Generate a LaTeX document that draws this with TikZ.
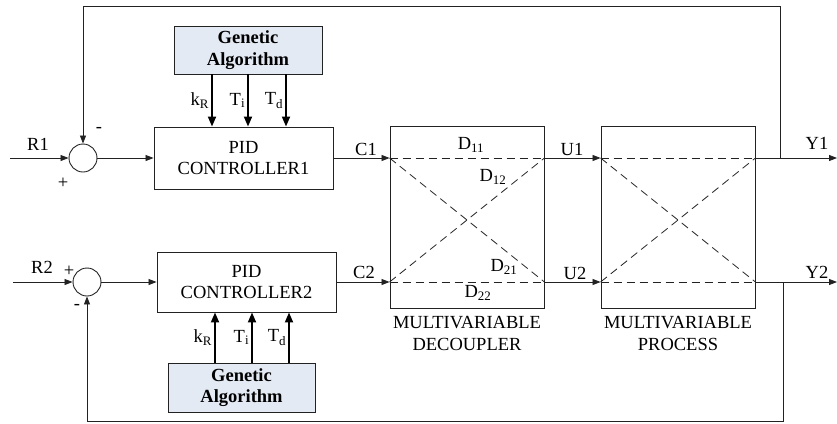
\documentclass[tikz,border=0pt]{standalone}
\usepackage{fontspec}
\setmainfont{Liberation Serif}
\usepackage{tikz}
\usetikzlibrary{arrows.meta,positioning,calc}
\definecolor{gablue}{HTML}{E4EAF4}
\definecolor{linegray}{HTML}{222222}
\newcommand{\diafont}{\fontsize{18.5}{21.5}\selectfont}
\tikzset{
  box/.style={draw=linegray,line width=0.9pt,align=center,inner sep=0pt},
  gabox/.style={box,fill=gablue,font=\diafont\bfseries},
  sumnode/.style={draw=linegray,line width=0.9pt,circle,minimum size=28pt,inner sep=0pt},
  sig/.style={draw=linegray,line width=0.8pt,-{Triangle[length=8pt,width=6pt]}},
  param/.style={draw=black,line width=1.8pt,-{Triangle[length=10pt,width=8pt]}},
  cross/.style={draw=linegray,line width=0.8pt,dash pattern=on 8pt off 5pt},
  lab/.style={inner sep=0pt}
}

\begin{document}
\begin{tikzpicture}[x=1pt,y=-1pt,font=\diafont]
  \useasboundingbox (0,0) rectangle (837,423);

  % Summing junctions
  \node[sumnode] (s1) at (83,158) {};
  \node[sumnode] (s2) at (87,282) {};

  % Controllers and optimisers
  \node[box,minimum width=179pt,minimum height=62pt] (pid1) at (243.5,158) {PID\\CONTROLLER1};
  \node[box,minimum width=179pt,minimum height=60pt] (pid2) at (246.5,282) {PID\\CONTROLLER2};
  \node[gabox,minimum width=148pt,minimum height=48pt] (ga1) at (248,50) {Genetic\\Algorithm};
  \node[gabox,minimum width=147pt,minimum height=49pt] (ga2) at (241.5,387.5) {Genetic\\Algorithm};

  % Decoupler and process
  \node[box,minimum width=154pt,minimum height=182pt] (dec) at (467,217) {};
  \node[box,minimum width=154pt,minimum height=182pt] (proc) at (678,217) {};
  \node[lab,align=center,anchor=north] (declab) at ([yshift=-8pt]dec.south) {MULTIVARIABLE\\DECOUPLER};
  \node[lab,align=center,anchor=north] (proclab) at ([yshift=-8pt]proc.south) {MULTIVARIABLE\\PROCESS};

  % Ports on the blocks
  \coordinate (d1l) at (dec.west |- pid1);
  \coordinate (d1r) at (dec.east |- pid1);
  \coordinate (d2l) at (dec.west |- pid2);
  \coordinate (d2r) at (dec.east |- pid2);
  \coordinate (p1l) at (proc.west |- pid1);
  \coordinate (p1r) at (proc.east |- pid1);
  \coordinate (p2l) at (proc.west |- pid2);
  \coordinate (p2r) at (proc.east |- pid2);

  % Dashed paths inside the blocks
  \foreach \l/\r in {d1l/d1r,d2l/d2r,d1l/d2r,d2l/d1r,p1l/p1r,p2l/p2r,p1l/p2r,p2l/p1r}
    \draw[cross] (\l) -- (\r);
  \node[lab] (d11) at (471,145) {D\textsubscript{11}};
  \node[lab] (d12) at (493,177) {D\textsubscript{12}};
  \node[lab] (d21) at (504,267) {D\textsubscript{21}};
  \node[lab] (d22) at (478,293) {D\textsubscript{22}};

  % Inputs
  \coordinate (in1) at (10,158);
  \coordinate (in2) at (13,282);
  \draw[sig] (in1) -- (s1.west);
  \draw[sig] (in2) -- (s2.west);
  \node[lab] (r1) at (38,144) {R1};
  \node[lab] (r2) at (42,267) {R2};
  \node[lab] (m1) at (99,130) {-};
  \node[lab] (p1) at (63,183) {+};
  \node[lab] (p2) at (69,271) {+};
  \node[lab] (m2) at (77,307) {-};

  % Forward signals
  \draw[sig] (s1.east) -- (s1.east -| pid1.west);
  \draw[sig] (s2.east) -- (s2.east -| pid2.west);
  \draw[sig] (pid1.east) -- (d1l);
  \draw[sig] (pid2.east) -- (d2l);
  \draw[sig] (d1r) -- (p1l);
  \draw[sig] (d2r) -- (p2l);
  \node[lab] (c1) at (366,149) {C1};
  \node[lab] (c2) at (364,272) {C2};
  \node[lab] (u1) at (572,149) {U1};
  \node[lab] (u2) at (575,273) {U2};

  % Outputs
  \coordinate (y1) at (837,158);
  \coordinate (y2) at (837,282);
  \draw[sig] (p1r) -- (y1);
  \draw[sig] (p2r) -- (y2);
  \node[lab] (y1lab) at (817,143) {Y1};
  \node[lab] (y2lab) at (817,272) {Y2};

  % Feedback loops
  \coordinate (b1) at (780,158);
  \coordinate (b2) at (783,282);
  \coordinate (fbtop) at (780,6);
  \coordinate (fbbot) at (783,421);
  \draw[sig] (b1) -- (fbtop) -| (s1.north);
  \draw[sig] (b2) -- (fbbot) -| (s2.south);

  % Tuned parameters
  \foreach \dx/\txt [count=\i] in {-36/k\textsubscript{R},0/T\textsubscript{i},38/T\textsubscript{d}}{
    \coordinate (gt\i) at ($(ga1.south)+(\dx,0)$);
    \draw[param] (gt\i) -- (gt\i |- pid1.north) node[pos=0.5,left=2pt,lab] {\txt};
  }
  \foreach \dx/\txt [count=\i] in {-26.5/k\textsubscript{R},10.5/T\textsubscript{i},47.5/T\textsubscript{d}}{
    \coordinate (gb\i) at ($(ga2.north)+(\dx,0)$);
    \draw[param] (gb\i) -- (gb\i |- pid2.south) node[pos=0.5,left=2pt,lab] {\txt};
  }
\end{tikzpicture}
\end{document}
